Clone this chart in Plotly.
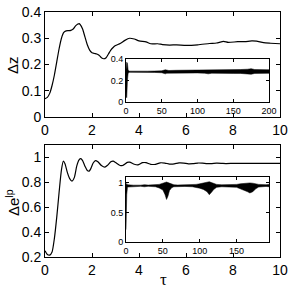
import plotly.graph_objects as go

# ---- data ----
tz = [0, 0.1, 0.2, 0.3, 0.4, 0.5, 0.6, 0.7, 0.8, 0.9, 1.0, 1.1, 1.2, 1.3, 1.4, 1.45, 1.5, 1.6, 1.7, 1.8,
      1.9, 2.0, 2.1, 2.2, 2.3, 2.4, 2.5, 2.6, 2.7, 2.8, 2.9, 3.0, 3.2, 3.4, 3.6, 3.8, 4.0, 4.3, 4.5, 4.8,
      5.0, 5.3, 5.6, 6.0, 6.5, 7.0, 7.3, 7.6, 7.8, 8.2, 8.5, 8.8, 9.0, 9.3, 9.6, 10]
dz = [0.07, 0.075, 0.09, 0.12, 0.16, 0.21, 0.26, 0.30, 0.322, 0.328, 0.329, 0.33, 0.335, 0.347, 0.354, 0.356,
      0.352, 0.335, 0.305, 0.275, 0.255, 0.245, 0.242, 0.24, 0.235, 0.226, 0.222, 0.226, 0.24, 0.255, 0.265,
      0.272, 0.28, 0.292, 0.3, 0.297, 0.29, 0.286, 0.279, 0.279, 0.276, 0.274, 0.275, 0.273, 0.275, 0.28,
      0.282, 0.288, 0.284, 0.287, 0.287, 0.29, 0.289, 0.283, 0.281, 0.279]

te = [0, 0.1, 0.2, 0.3, 0.4, 0.5, 0.6, 0.7, 0.78, 0.85, 0.95, 1.05, 1.15, 1.25, 1.35, 1.45, 1.52, 1.6, 1.7,
      1.8, 1.88, 1.95, 2.05, 2.15, 2.25, 2.4, 2.55, 2.65, 2.8, 2.9, 3.0, 3.2, 3.3, 3.5, 3.6, 3.8, 3.95, 4.15,
      4.3, 4.5, 4.7, 4.9, 5.1, 5.3, 5.5, 5.7, 5.9, 6.1, 6.3, 6.5, 6.7, 6.9, 7.1, 7.3, 7.5, 7.7, 8.0, 8.5, 9.0, 10]
de = [0.25, 0.22, 0.215, 0.24, 0.35, 0.52, 0.72, 0.9, 0.97, 0.95, 0.88, 0.83, 0.81, 0.84, 0.93, 0.98, 0.99,
      0.975, 0.93, 0.895, 0.89, 0.91, 0.955, 0.975, 0.965, 0.935, 0.922, 0.935, 0.965, 0.97, 0.96, 0.935,
      0.935, 0.96, 0.962, 0.945, 0.94, 0.958, 0.958, 0.945, 0.945, 0.957, 0.955, 0.947, 0.948, 0.956, 0.955,
      0.949, 0.95, 0.955, 0.954, 0.95, 0.951, 0.954, 0.953, 0.951, 0.952, 0.953, 0.952, 0.952]

# inset 1 envelope (long time, Δz)
ix1 = [0, 1, 2, 3, 5, 10, 20, 30, 40, 50, 55, 57, 60, 70, 80, 90, 100, 110, 115, 120, 130, 140, 150, 160,
       170, 175, 180, 190, 200]
iu1 = [0.30, 0.37, 0.36, 0.295, 0.287, 0.286, 0.285, 0.287, 0.288, 0.29, 0.3, 0.295, 0.293, 0.295, 0.295,
       0.298, 0.298, 0.298, 0.302, 0.298, 0.3, 0.3, 0.302, 0.302, 0.305, 0.31, 0.302, 0.3, 0.3]
il1 = [0.05, 0.04, 0.2, 0.27, 0.276, 0.277, 0.277, 0.276, 0.275, 0.272, 0.262, 0.268, 0.272, 0.272, 0.271,
       0.27, 0.27, 0.268, 0.262, 0.268, 0.268, 0.267, 0.266, 0.266, 0.262, 0.258, 0.266, 0.267, 0.267]

# inset 2 envelope (long time, Δe^lp)
ix2 = [0, 1, 2, 5, 10, 20, 25, 30, 40, 45, 50, 53, 55, 57, 59, 62, 65, 70, 80, 90, 95, 100, 105, 110, 113,
       116, 119, 123, 130, 140, 150, 155, 160, 165, 168, 172, 176, 180, 190, 194]
iu2 = [0.97, 0.99, 0.97, 0.965, 0.962, 0.962, 0.97, 0.963, 0.965, 0.975, 0.995, 1.015, 1.015, 1.005, 0.995,
       0.98, 0.968, 0.965, 0.967, 0.97, 0.975, 0.985, 0.998, 1.01, 1.02, 1.005, 0.99, 0.975, 0.968, 0.968,
       0.975, 0.985, 0.995, 1.0, 1.0, 0.995, 0.985, 0.975, 0.97, 0.975]
il2 = [0.21, 0.8, 0.93, 0.938, 0.942, 0.942, 0.935, 0.942, 0.935, 0.915, 0.88, 0.8, 0.72, 0.78, 0.87, 0.92,
       0.935, 0.94, 0.94, 0.935, 0.925, 0.91, 0.89, 0.85, 0.8, 0.84, 0.89, 0.925, 0.935, 0.935, 0.925, 0.9,
       0.88, 0.85, 0.83, 0.85, 0.9, 0.93, 0.94, 0.935]

main_xticks = [0, 2, 4, 6, 8, 10]

W = 291
def px(a, b):
    return [a / W, b / W]
def py(top, bot):
    return [1 - bot / W, 1 - top / W]

fig = go.Figure()
line = dict(color="black", width=1.2, shape="spline", smoothing=0.6)
fig.add_trace(go.Scatter(x=tz, y=dz, mode="lines", line=line, xaxis="x", yaxis="y"))
fig.add_trace(go.Scatter(x=te, y=de, mode="lines", line=line, xaxis="x2", yaxis="y2"))
fig.add_trace(go.Scatter(x=ix1 + ix1[::-1], y=iu1 + il1[::-1], mode="lines", fill="toself",
                         fillcolor="black", line=dict(color="black", width=0.5), xaxis="x3", yaxis="y3"))
fig.add_trace(go.Scatter(x=ix2 + ix2[::-1], y=iu2 + il2[::-1], mode="lines", fill="toself",
                         fillcolor="black", line=dict(color="black", width=0.5), xaxis="x4", yaxis="y4"))

font_main = dict(family="Liberation Sans, Arial", size=14, color="black")
font_in = dict(family="Liberation Sans, Arial", size=9, color="black")
common = dict(showline=True, linecolor="black", linewidth=1, mirror="ticks", ticks="inside",
              tickcolor="black", showgrid=False, zeroline=False, automargin=False)

fig.update_layout(
    template="none",
    width=291, height=291, margin=dict(l=0, r=0, t=0, b=0, autoexpand=False),
    paper_bgcolor="white", plot_bgcolor="white", showlegend=False,
    xaxis=dict(domain=px(45, 280), range=[0, 10], tickvals=main_xticks, ticklen=4, tickfont=font_main,
               anchor="y", **common),
    yaxis=dict(domain=py(12, 117), range=[0, 0.4], tickvals=[0, 0.1, 0.2, 0.3, 0.4], ticklen=4,
               tickfont=font_main, anchor="x", **common),
    xaxis2=dict(domain=px(45, 280), range=[0, 10], tickvals=main_xticks, ticklen=4, tickfont=font_main,
                anchor="y2", **common),
    yaxis2=dict(domain=py(145, 257), range=[0.2, 1.1], tickvals=[0.2, 0.4, 0.6, 0.8, 1],
                ticktext=["0.2", "0.4", "0.6", "0.8", "1"], ticklen=4, tickfont=font_main, anchor="x2", **common),
    xaxis3=dict(domain=px(126, 269), range=[0, 200], tickvals=[0, 50, 100, 150, 200], ticklen=3,
                tickfont=font_in, anchor="y3", **common),
    yaxis3=dict(domain=py(59, 102), range=[0, 0.4], tickvals=[0, 0.2, 0.4], ticklen=3,
                tickfont=font_in, anchor="x3", **common),
    xaxis4=dict(domain=px(126, 269), range=[0, 194], tickvals=[0, 50, 100, 150], ticklen=3,
                tickfont=font_in, anchor="y4", **common),
    yaxis4=dict(domain=py(177, 242), range=[0, 1.1], tickvals=[0, 0.5, 1], ticklen=3,
                tickfont=font_in, anchor="x4", **common),
    annotations=[
        dict(text="Δz", x=12 / W, y=1 - 65 / W, xref="paper", yref="paper", textangle=-90, showarrow=False,
             xanchor="center", yanchor="middle",
             font=dict(family="Liberation Sans, Arial", size=15, color="black")),
        dict(text="Δe<sup>lp</sup>", x=12 / W, y=1 - 203 / W, xref="paper", yref="paper", textangle=-90,
             xanchor="center", yanchor="middle",
             showarrow=False, font=dict(family="Liberation Sans, Arial", size=15, color="black")),
        dict(text="τ", x=163 / W, y=1 - 279 / W, xref="paper", yref="paper", showarrow=False,
             xanchor="center", yanchor="middle",
             font=dict(family="Liberation Serif, Times New Roman", size=17, color="black")),
    ],
)

fig.write_html("out.html", config={"displayModeBar": False},
               post_script="document.body.style.margin='0';document.body.style.padding='0';")
